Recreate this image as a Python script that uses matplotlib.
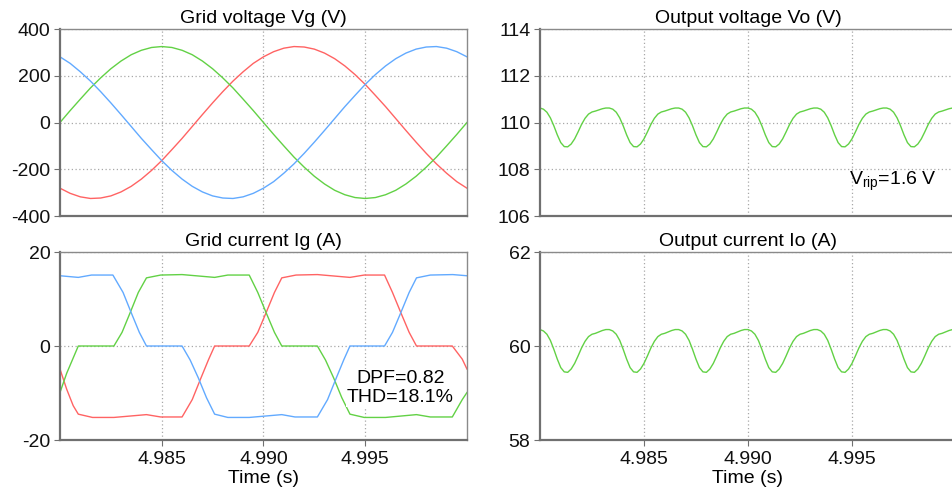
import numpy as np
import matplotlib
matplotlib.use("Agg")
import matplotlib.pyplot as plt
from matplotlib.ticker import FormatStrFormatter

# =========================
# style
# =========================
plt.rcParams.update({
    "font.family": ["Liberation Sans", "DejaVu Sans"],
    "font.size": 14,
    "mathtext.default": "regular",
    "axes.unicode_minus": False,
    "axes.linewidth": 1.3,
    "xtick.major.size": 4,
    "ytick.major.size": 4,
    "xtick.major.pad": 4,
    "ytick.major.pad": 3,
})

RED = "#ff6363"
GREEN = "#62d145"
BLUE = "#62aaff"
GRID = "#a8a8a8"

T0 = 4.98

# =========================
# data: grid voltage (V), 0.5 ms steps from 4.980 s
# =========================
vg_t = np.linspace(4.98, 5.0, 41)
vg_green = [0, 51, 100, 148, 191, 230, 263, 290, 309, 321, 325, 321, 309, 290, 263, 230, 191,
            148, 100, 51, 0, -51, -100, -148, -191, -230, -263, -290, -309, -321, -325, -321,
            -309, -290, -263, -230, -191, -148, -100, -51, 0]
vg_red = [-281, -303, -318, -325, -323, -314, -297, -273, -242, -205, -163, -116, -68, -17, 34,
          84, 132, 177, 217, 253, 281, 303, 318, 325, 323, 314, 297, 273, 242, 205, 163, 116,
          68, 17, -34, -84, -132, -177, -217, -253, -281]
vg_blue = [281, 253, 217, 177, 132, 84, 34, -17, -68, -116, -163, -205, -242, -273, -297, -314,
           -323, -325, -318, -303, -281, -253, -217, -177, -132, -84, -34, 17, 68, 116, 163, 205,
           242, 273, 297, 314, 323, 325, 318, 303, 281]

# =========================
# data: grid current (A), breakpoints in ms after 4.980 s
# =========================
ig_red_ms = [0.0, 0.33, 0.65, 0.9, 1.6, 2.65, 4.25, 4.95, 6.0, 6.5, 6.9, 7.3, 7.6, 9.3, 9.72,
             10.13, 10.54, 10.9, 11.6, 12.65, 14.25, 14.95, 15.95, 16.34, 16.75, 17.16, 17.52,
             19.28, 19.77, 20.0]
ig_red = [-4.9, -9.2, -12.7, -14.5, -15.2, -15.2, -14.6, -15.1, -15.1, -11.4, -7.1, -2.9, 0.0,
          0.0, 2.9, 7.1, 11.4, 14.5, 15.1, 15.2, 14.6, 15.1, 15.1, 11.4, 7.1, 2.9, 0.0, 0.0,
          -2.8, -4.9]

ig_green_ms = [0.0, 0.33, 0.9, 2.65, 3.05, 3.45, 3.85, 4.25, 4.95, 6.0, 7.6, 8.25, 9.3, 9.72,
               10.13, 10.54, 10.9, 12.65, 13.05, 13.45, 13.85, 14.25, 14.95, 16.0, 17.52, 18.2,
               19.28, 19.77, 20.0]
ig_green = [-9.9, -5.8, 0.0, 0.0, 2.9, 7.1, 11.4, 14.5, 15.1, 15.2, 14.6, 15.1, 15.1, 11.4, 7.1,
            2.9, 0.0, 0.0, -3.0, -6.8, -11.0, -14.5, -15.2, -15.2, -14.6, -15.1, -15.1, -11.4,
            -9.9]

ig_blue_ms = [0.0, 0.9, 1.55, 2.6, 3.1, 3.5, 3.9, 4.25, 6.0, 6.4, 6.8, 7.2, 7.6, 8.25, 9.3,
              10.9, 11.55, 12.65, 13.15, 13.55, 13.95, 14.25, 15.95, 16.34, 16.75, 17.16, 17.52,
              18.2, 19.3, 20.0]
ig_blue = [14.95, 14.6, 15.1, 15.1, 11.4, 7.1, 2.9, 0.0, 0.0, -3.0, -6.8, -11.0, -14.5, -15.2,
           -15.2, -14.6, -15.1, -15.1, -11.4, -7.1, -2.9, 0.0, 0.0, 2.9, 7.1, 11.4, 14.5, 15.1,
           15.2, 14.95]

# =========================
# data: output voltage / current, 1/6 ms steps from 4.980 s
# =========================
out_t = np.linspace(4.98, 5.0, 121)
vo = [110.62, 110.57, 110.44, 110.20, 109.86, 109.47, 109.14, 108.97, 108.96, 109.08,
      109.30, 109.60, 109.92, 110.18, 110.36, 110.45, 110.49, 110.54, 110.59, 110.62,
      110.62, 110.57, 110.44, 110.20, 109.86, 109.47, 109.14, 108.97, 108.96, 109.08,
      109.30, 109.60, 109.92, 110.18, 110.36, 110.45, 110.49, 110.54, 110.59, 110.62,
      110.62, 110.57, 110.44, 110.20, 109.86, 109.47, 109.14, 108.97, 108.96, 109.08,
      109.30, 109.60, 109.92, 110.18, 110.36, 110.45, 110.49, 110.54, 110.59, 110.62,
      110.62, 110.57, 110.44, 110.20, 109.86, 109.47, 109.14, 108.97, 108.96, 109.08,
      109.30, 109.60, 109.92, 110.18, 110.36, 110.45, 110.49, 110.54, 110.59, 110.62,
      110.62, 110.57, 110.44, 110.20, 109.86, 109.47, 109.14, 108.97, 108.96, 109.08,
      109.30, 109.60, 109.92, 110.18, 110.36, 110.45, 110.49, 110.54, 110.59, 110.62,
      110.62, 110.57, 110.44, 110.20, 109.86, 109.47, 109.14, 108.97, 108.96, 109.08,
      109.30, 109.60, 109.92, 110.18, 110.36, 110.45, 110.49, 110.54, 110.59, 110.62,
      110.62]
io = [60.35, 60.32, 60.25, 60.12, 59.93, 59.72, 59.54, 59.45, 59.44, 59.51,
      59.63, 59.79, 59.96, 60.10, 60.20, 60.25, 60.27, 60.30, 60.33, 60.35,
      60.35, 60.32, 60.25, 60.12, 59.93, 59.72, 59.54, 59.45, 59.44, 59.51,
      59.63, 59.79, 59.96, 60.10, 60.20, 60.25, 60.27, 60.30, 60.33, 60.35,
      60.35, 60.32, 60.25, 60.12, 59.93, 59.72, 59.54, 59.45, 59.44, 59.51,
      59.63, 59.79, 59.96, 60.10, 60.20, 60.25, 60.27, 60.30, 60.33, 60.35,
      60.35, 60.32, 60.25, 60.12, 59.93, 59.72, 59.54, 59.45, 59.44, 59.51,
      59.63, 59.79, 59.96, 60.10, 60.20, 60.25, 60.27, 60.30, 60.33, 60.35,
      60.35, 60.32, 60.25, 60.12, 59.93, 59.72, 59.54, 59.45, 59.44, 59.51,
      59.63, 59.79, 59.96, 60.10, 60.20, 60.25, 60.27, 60.30, 60.33, 60.35,
      60.35, 60.32, 60.25, 60.12, 59.93, 59.72, 59.54, 59.45, 59.44, 59.51,
      59.63, 59.79, 59.96, 60.10, 60.20, 60.25, 60.27, 60.30, 60.33, 60.35,
      60.35]

X_TICKS = [4.985, 4.990, 4.995]


def ms_to_t(ms_list):
    return [T0 + m / 1000.0 for m in ms_list]


def style_axes(ax, yticks, show_xlabels):
    ax.set_xlim(4.98, 5.0)
    ax.set_ylim(yticks[0], yticks[-1])
    ax.set_yticks(yticks)
    ax.set_xticks(X_TICKS)
    ax.xaxis.set_major_formatter(FormatStrFormatter("%.3f"))
    ax.grid(True, linestyle=(0, (1, 2)), linewidth=0.9, color=GRID)
    for side in ["left", "bottom"]:
        ax.spines[side].set_color("#707070")
        ax.spines[side].set_linewidth(1.6)
    for side in ["top", "right"]:
        ax.spines[side].set_color("#8a8a8a")
        ax.spines[side].set_linewidth(1.0)
    ax.tick_params(colors="#707070", labelcolor="#111111")
    if show_xlabels:
        ax.set_xlabel("Time (s)", labelpad=1)
    else:
        ax.tick_params(axis="x", labelbottom=False, length=0)


fig = plt.figure(figsize=(9.52, 4.96), dpi=100)

ax_vg = fig.add_axes([0.063, 0.5645, 0.4275, 0.377])
ax_ig = fig.add_axes([0.063, 0.1129, 0.4275, 0.379])
ax_vo = fig.add_axes([0.5672, 0.5645, 0.437, 0.377])
ax_io = fig.add_axes([0.5672, 0.1129, 0.437, 0.379])

# grid voltage
ax_vg.plot(vg_t, vg_red, color=RED, lw=1.0)
ax_vg.plot(vg_t, vg_green, color=GREEN, lw=1.0)
ax_vg.plot(vg_t, vg_blue, color=BLUE, lw=1.0)
style_axes(ax_vg, [-400, -200, 0, 200, 400], False)
ax_vg.set_title("Grid voltage Vg (V)", fontsize=14, pad=4)

# grid current
ax_ig.plot(ms_to_t(ig_red_ms), ig_red, color=RED, lw=1.0)
ax_ig.plot(ms_to_t(ig_green_ms), ig_green, color=GREEN, lw=1.0)
ax_ig.plot(ms_to_t(ig_blue_ms), ig_blue, color=BLUE, lw=1.0)
style_axes(ax_ig, [-20, 0, 20], True)
ax_ig.set_title("Grid current Ig (A)", fontsize=14, pad=4)
ax_ig.text(4.99672, -8.9, "DPF=0.82\nTHD=18.1%", ha="center", va="center",
           fontsize=14, linespacing=1.15,
           bbox=dict(facecolor="white", edgecolor="none", pad=0.5))

# output voltage
ax_vo.plot(out_t, vo, color=GREEN, lw=1.0)
style_axes(ax_vo, [106, 108, 110, 112, 114], False)
ax_vo.set_title("Output voltage Vo (V)", fontsize=14, pad=4)
ax_vo.text(4.99697, 107.46, r"V$_{rip}$=1.6 V", ha="center", va="center", fontsize=14)

# output current
ax_io.plot(out_t, io, color=GREEN, lw=1.0)
style_axes(ax_io, [58, 60, 62], True)
ax_io.set_title("Output current Io (A)", fontsize=14, pad=4)

plt.savefig("out.png", dpi=100)
plt.close()
